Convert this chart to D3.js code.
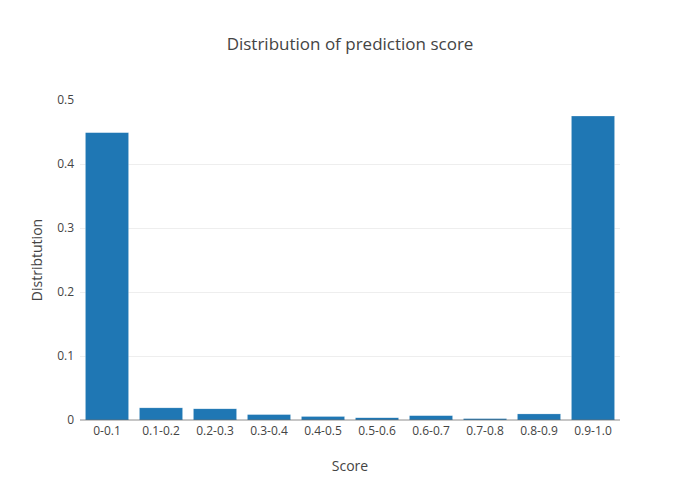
<!DOCTYPE html>
<html>
<head>
<meta charset="utf-8">
<script src="https://cdn.jsdelivr.net/npm/d3@7"></script>
<style>
  body { margin: 0; background: #fff; }
  svg { display: block; font-family: "Open Sans", verdana, arial, sans-serif; }
</style>
</head>
<body>
<svg id="chart" width="700" height="500"></svg>
<script>
const categories = ["0-0.1", "0.1-0.2", "0.2-0.3", "0.3-0.4", "0.4-0.5", "0.5-0.6", "0.6-0.7", "0.7-0.8", "0.8-0.9", "0.9-1.0"];
const values = [0.449, 0.019, 0.0175, 0.0085, 0.0055, 0.0035, 0.0068, 0.0022, 0.0095, 0.475];
const yTicks = [0, 0.1, 0.2, 0.3, 0.4, 0.5];
const yTickLabels = ["0", "0.1", "0.2", "0.3", "0.4", "0.5"];
const titleText = "Distribution of prediction score";
const xTitle = "Score";
const yTitle = "Distribtution";

const W = 700, H = 500;
const margin = { l: 80, r: 80, t: 100, b: 80 };
const svg = d3.select("#chart");

const x = d3.scaleBand().domain(categories).range([margin.l, W - margin.r]).paddingInner(0.2).paddingOuter(0.1);
const y = d3.scaleLinear().domain([0, 0.5]).range([H - margin.b, margin.t]);

// gridlines
svg.append("g").selectAll("line").data(yTicks.filter(d => d > 0 && d < 0.5)).join("line")
  .attr("x1", margin.l).attr("x2", W - margin.r)
  .attr("y1", d => Math.round(y(d)) + 0.5).attr("y2", d => Math.round(y(d)) + 0.5)
  .attr("stroke", "#eee").attr("stroke-width", 1);

// bars
svg.append("g").selectAll("rect").data(values).join("rect")
  .attr("x", (d, i) => x(categories[i]))
  .attr("width", x.bandwidth())
  .attr("y", d => y(d))
  .attr("height", d => y(0) - y(d))
  .attr("fill", "#1f77b4")
  .attr("stroke", "rgba(255,255,255,0.5)")
  .attr("stroke-width", 0.5);

// zero line
svg.append("line")
  .attr("x1", margin.l).attr("x2", W - margin.r)
  .attr("y1", y(0)).attr("y2", y(0))
  .attr("stroke", "#444").attr("stroke-width", 1).attr("opacity", 0.6);

// y axis
const yAxis = d3.axisLeft(y).tickValues(yTicks).tickFormat((d, i) => yTickLabels[i]).tickSize(0).tickPadding(4);
const gy = svg.append("g").attr("transform", `translate(${margin.l - 2},0)`).call(yAxis);
gy.select(".domain").remove();
gy.selectAll("text").attr("font-size", 12).attr("fill", "#444").attr("font-family", "'Open Sans', verdana, arial, sans-serif");

// x axis
const xAxis = d3.axisBottom(x).tickSize(0).tickPadding(6);
const gx = svg.append("g").attr("transform", `translate(0,${H - margin.b})`).call(xAxis);
gx.select(".domain").remove();
gx.selectAll("text").attr("font-size", 12).attr("fill", "#444").attr("font-family", "'Open Sans', verdana, arial, sans-serif");

// title
svg.append("text").attr("x", W / 2).attr("y", 50).attr("text-anchor", "middle")
  .attr("font-size", 17).attr("fill", "#444").text(titleText);

svg.append("text").attr("x", (margin.l + W - margin.r) / 2).attr("y", 471).attr("text-anchor", "middle")
  .attr("font-size", 14).attr("fill", "#444").text(xTitle);

svg.append("text").attr("transform", `translate(42,${(margin.t + H - margin.b) / 2}) rotate(-90)`)
  .attr("text-anchor", "middle").attr("font-size", 14).attr("fill", "#444").text(yTitle);
</script>
</body>
</html>
